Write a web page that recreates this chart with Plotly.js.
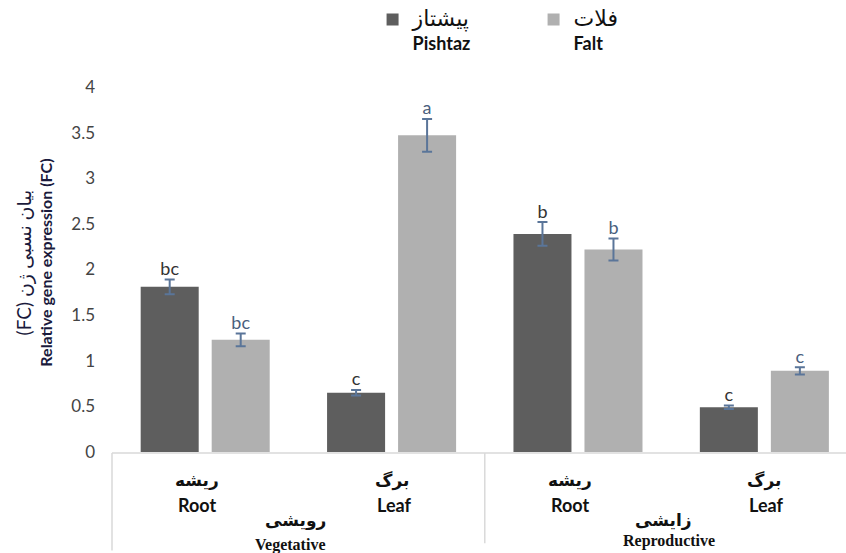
<!DOCTYPE html>
<html><head><meta charset="utf-8">
<script src="https://cdn.plot.ly/plotly-3.0.1.min.js"></script>
<style>html,body{margin:0;padding:0;background:#fff}</style>
</head><body>
<div id="chart" style="width:846px;height:553px"></div>
<script>
const groups = [0, 1, 2, 3];
const catFa = ['ریشه', 'برگ', 'ریشه', 'برگ'];
const catEn = ['Root', 'Leaf', 'Root', 'Leaf'];
const stageFa = ['رویشی', 'زایشی'];
const stageEn = ['Vegetative', 'Reproductive'];
const pishtaz = [1.81, 0.65, 2.39, 0.49];
const pishtazErr = [0.08, 0.03, 0.13, 0.02];
const falt = [1.23, 3.47, 2.22, 0.89];
const faltErr = [0.07, 0.18, 0.12, 0.04];
const pishtazLetters = ['bc', 'c', 'b', 'c'];
const faltLetters = ['bc', 'a', 'b', 'c'];
const yTicks = [0, 0.5, 1, 1.5, 2, 2.5, 3, 3.5, 4];

const FONT = 'Lato, "DejaVu Sans", sans-serif';
const FA = '"DejaVu Sans", sans-serif';
const BARGAP = 0.238, GROUPGAP = 0.183;
const off = (1 - BARGAP) / 4;
const errColor = '#5a7599';

const traces = [
  {type: 'bar', x: groups, y: pishtaz, name: '<span style="font-size:22px">پیشتاز</span><br><b>Pishtaz</b>',
   marker: {color: '#5e5e5e'},
   error_y: {type: 'data', array: pishtazErr, color: errColor, thickness: 2, width: 5}},
  {type: 'bar', x: groups, y: falt, name: '<span style="font-size:22px">فلات</span><br><b>Falt</b>',
   marker: {color: '#b0b0b0'},
   error_y: {type: 'data', array: faltErr, color: errColor, thickness: 2, width: 5}},
  {type: 'scatter', mode: 'text', showlegend: false, hoverinfo: 'skip',
   x: groups.map(g => g - off), y: pishtaz.map((v, i) => v + pishtazErr[i]),
   text: pishtazLetters, textposition: 'top center', cliponaxis: false,
   textfont: {family: FONT, size: 18, color: '#333'}},
  {type: 'scatter', mode: 'text', showlegend: false, hoverinfo: 'skip',
   x: groups.map(g => g + off), y: falt.map((v, i) => v + faltErr[i]),
   text: faltLetters, textposition: 'top center', cliponaxis: false,
   textfont: {family: FONT, size: 18, color: '#4a5f7e'}}
];

const annotations = [];
groups.forEach((g, i) => {
  annotations.push({x: g, y: 0, xref: 'x', yref: 'paper', text: '<b>' + catFa[i] + '</b>', showarrow: false,
    yanchor: 'middle', font: {family: FA, size: 17, color: '#111'}, yshift: -28, xshift: i % 2 === 0 ? -8 : 0});
  annotations.push({x: g, y: 0, xref: 'x', yref: 'paper', text: '<b>' + catEn[i] + '</b>', showarrow: false,
    yanchor: 'middle', font: {family: FONT, size: 18, color: '#111'}, yshift: -53, xshift: i % 2 === 0 ? -8 : 2});
});
[0.5, 2.5].forEach((x, i) => {
  annotations.push({x: x, y: 0, xref: 'x', yref: 'paper', text: '<b>' + stageFa[i] + '</b>', showarrow: false,
    yanchor: 'middle', font: {family: FA, size: 17, color: '#111'}, yshift: -68, xshift: i === 0 ? -3 : -8});
  annotations.push({x: x, y: 0, xref: 'x', yref: 'paper', text: '<b>' + stageEn[i] + '</b>', showarrow: false,
    yanchor: 'middle', font: {family: '"Liberation Serif", serif', size: 16, color: '#111'}, yshift: i === 0 ? -93 : -89, xshift: i === 0 ? -8 : -2});
});
annotations.push({x: -0.107, y: 0.52, xref: 'paper', yref: 'paper', textangle: -90, showarrow: false,
  xanchor: 'center', yanchor: 'middle', align: 'center',
  text: '<span style="font-size:19px">(FC) بیان نسبی ژن</span><br><b>Relative gene expression (FC)</b>',
  font: {family: FONT, size: 16, color: '#1a1a3c'}});

const shapes = [
  {type: 'line', xref: 'paper', yref: 'paper', x0: 0, x1: 1, y0: -0.003, y1: -0.003, line: {color: '#d9d9d9', width: 1.5}},
  {type: 'line', xref: 'paper', yref: 'paper', x0: 0, x1: 0, y0: -0.003, y1: -0.27, line: {color: '#d9d9d9', width: 1.5}},
  {type: 'line', xref: 'x', yref: 'paper', x0: 1.5, x1: 1.5, y0: -0.003, y1: -0.25, line: {color: '#d9d9d9', width: 1.5}}
];

const layout = {
  width: 846, height: 553,
  margin: {l: 112, r: 0, t: 87, b: 101},
  paper_bgcolor: '#fff', plot_bgcolor: '#fff',
  barmode: 'group', bargap: BARGAP, bargroupgap: GROUPGAP,
  showlegend: true,
  legend: {orientation: 'h', x: 0.355, y: 1.235, xanchor: 'left', yanchor: 'top', valign: 'top',
    entrywidth: 116, entrywidthmode: 'pixels', itemclick: false,
    font: {family: FONT, size: 18, color: '#111'}, bgcolor: 'rgba(0,0,0,0)'},
  xaxis: {range: [-0.5, 3.438], showticklabels: false, showgrid: false, zeroline: false, showline: false, ticks: ''},
  yaxis: {range: [0, 4], tickvals: yTicks, ticktext: yTicks.map(String), showgrid: false, zeroline: false, showline: false,
    ticks: '', ticklabelstandoff: 16, tickfont: {family: FONT, size: 17, color: '#444'}},
  annotations: annotations,
  shapes: shapes
};

Plotly.newPlot('chart', traces, layout, {displayModeBar: false, staticPlot: true});
</script>
</body></html>
